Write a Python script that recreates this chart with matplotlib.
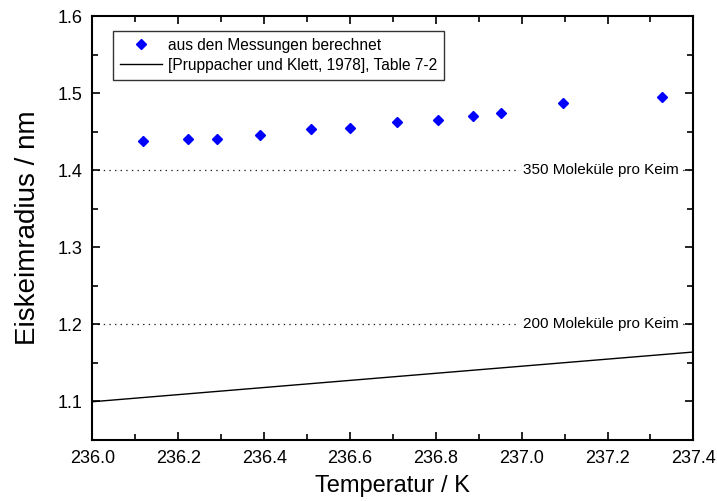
import matplotlib
matplotlib.use('Agg')
import matplotlib.pyplot as plt
from matplotlib.ticker import MultipleLocator

plt.rcParams['font.family'] = ['Liberation Sans', 'DejaVu Sans']

# measured nucleus radii
temp_meas = [236.117, 236.223, 236.290, 236.391, 236.509, 236.599,
             236.709, 236.804, 236.886, 236.951, 237.096, 237.328]
radius_meas = [1.4377, 1.4406, 1.4410, 1.4458, 1.4532, 1.4553,
               1.4623, 1.4653, 1.4709, 1.4740, 1.4874, 1.4950]

# Pruppacher & Klett, Table 7-2
temp_pk = [236.0, 236.7, 237.4]
radius_pk = [1.0995, 1.1318, 1.1640]

# reference lines: molecules per nucleus
ref_radius = [1.4, 1.2]
ref_labels = ['350 Moleküle pro Keim', '200 Moleküle pro Keim']

fig = plt.figure(figsize=(7.17, 5.01), dpi=100)
ax = fig.add_axes([0.129, 0.122, 0.838, 0.846])

for r, lab in zip(ref_radius, ref_labels):
    ax.axhline(r, color='#222222', linestyle=(0, (1.1, 3.4)), linewidth=0.9, zorder=1)
    ax.text(237.365, r, lab, ha='right', va='center', fontsize=11,
            bbox=dict(facecolor='white', edgecolor='none', pad=1.5), zorder=2)

ax.plot(temp_meas, radius_meas, linestyle='none', marker='D', markersize=5.5,
        color='#0000ff', label='aus den Messungen berechnet', zorder=3)
ax.plot(temp_pk, radius_pk, color='black', linewidth=1.0,
        label='[Pruppacher und Klett, 1978], Table 7-2', zorder=3)

ax.set_xlim(236.0, 237.4)
ax.set_ylim(1.05, 1.6)
ax.xaxis.set_major_locator(MultipleLocator(0.2))
ax.xaxis.set_minor_locator(MultipleLocator(0.1))
ax.yaxis.set_major_locator(MultipleLocator(0.1))
ax.yaxis.set_minor_locator(MultipleLocator(0.05))
ax.xaxis.set_major_formatter(plt.FormatStrFormatter('%.1f'))
ax.yaxis.set_major_formatter(plt.FormatStrFormatter('%.1f'))
ax.tick_params(which='both', direction='in', top=True, right=True,
               labelsize=13, width=1.2, pad=7)
ax.tick_params(which='major', length=6)
ax.tick_params(which='minor', length=4)
for s in ax.spines.values():
    s.set_linewidth(1.5)

ax.set_xlabel('Temperatur / K', fontsize=17, labelpad=6)
ax.set_ylabel('Eiskeimradius / nm', fontsize=20, labelpad=12)

leg = ax.legend(loc='upper left', bbox_to_anchor=(0.034, 0.965), borderaxespad=0,
                fontsize=11.2, frameon=True, fancybox=False, edgecolor='black',
                handlelength=2.7, handletextpad=0.4, borderpad=0.45,
                labelspacing=0.3)
leg.get_frame().set_linewidth(1.0)

fig.savefig('out.png', dpi=100)
